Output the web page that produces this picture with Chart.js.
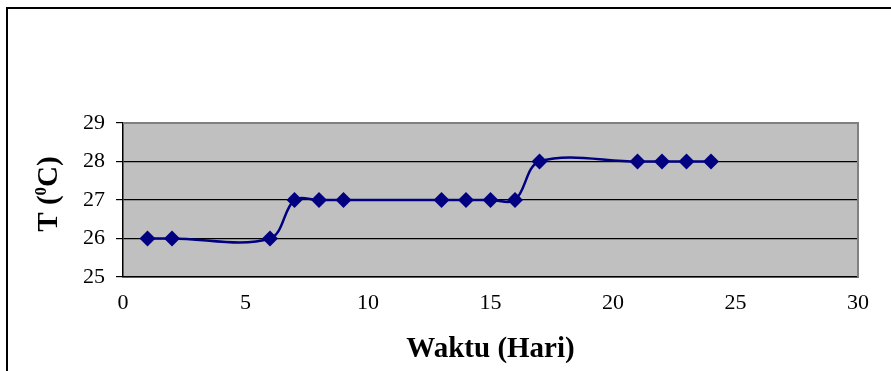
<!DOCTYPE html>
<html>
<head>
<meta charset="utf-8">
<script src="https://cdn.jsdelivr.net/npm/chart.js@4.4.0/dist/chart.umd.min.js"></script>
<style>
  html, body { margin: 0; padding: 0; background: #fff; }
  #wrap { width: 891px; height: 371px; position: relative; }
</style>
</head>
<body>
<div id="wrap"><canvas id="grafik"></canvas></div>
<script>
// Data suhu harian
const hari = [1, 2, 6, 7, 8, 9, 13, 14, 15, 16, 17, 21, 22, 23, 24];
const suhu = [26, 26, 26, 27, 27, 27, 27, 27, 27, 27, 28, 28, 28, 28, 28];
const xTicks = [0, 5, 10, 15, 20, 25, 30];
const yTicks = [25, 26, 27, 28, 29];

const puntos = hari.map((h, i) => ({ x: h, y: suhu[i] }));

// Bingkai luar + latar area plot + judul sumbu Y dengan superskrip
const dekorasi = {
    id: 'dekorasi',
    beforeDraw(chart) {
        const { ctx, chartArea: a } = chart;
        ctx.save();
        ctx.fillStyle = '#c0c0c0';
        ctx.fillRect(a.left, a.top, a.right - a.left, a.bottom - a.top);
        ctx.restore();
    },
    afterDraw(chart) {
        const { ctx, chartArea: a } = chart;
        ctx.save();
        // bingkai luar
        ctx.strokeStyle = '#000';
        ctx.lineWidth = 2;
        ctx.strokeRect(7, 8, 900, 400);
        // sisi atas & kanan area plot
        ctx.strokeStyle = '#808080';
        ctx.lineWidth = 2;
        ctx.beginPath();
        ctx.moveTo(a.left, a.top);
        ctx.lineTo(a.right, a.top);
        ctx.lineTo(a.right, a.bottom);
        ctx.stroke();
        // judul sumbu Y: T (0C)
        ctx.fillStyle = '#000';
        ctx.translate(50, 194);
        ctx.rotate(-Math.PI / 2);
        ctx.textBaseline = 'middle';
        const big = 'bold 29px "Liberation Serif", serif';
        const small = 'bold 17px "Liberation Serif", serif';
        const parts = [['T (', big, 0], ['0', small, -8], ['C)', big, 0]];
        let total = 0;
        parts.forEach(p => { ctx.font = p[1]; total += ctx.measureText(p[0]).width; });
        let x = -total / 2;
        parts.forEach(p => {
            ctx.font = p[1];
            ctx.fillText(p[0], x, p[2]);
            x += ctx.measureText(p[0]).width;
        });
        ctx.restore();
    }
};

new Chart(document.getElementById('grafik'), {
    type: 'line',
    data: {
        datasets: [{
            data: puntos,
            borderColor: '#000080',
            backgroundColor: '#000080',
            borderWidth: 2.5,
            tension: 0.35,
            pointStyle: 'rectRot',
            pointRadius: 8,
            pointHoverRadius: 8,
            pointBorderWidth: 0,
            fill: false
        }]
    },
    options: {
        responsive: true,
        maintainAspectRatio: false,
        animation: false,
        events: [],
        layout: { padding: { top: 123, right: 33, left: 0, bottom: 0 } },
        plugins: { legend: { display: false }, tooltip: { enabled: false } },
        scales: {
            x: {
                type: 'linear',
                min: xTicks[0],
                max: xTicks[xTicks.length - 1],
                afterBuildTicks: (s) => { s.ticks = xTicks.map(v => ({ value: v })); },
                afterFit: (s) => { s.height = 94; },
                grid: { display: false, drawOnChartArea: false, drawTicks: true, tickLength: 7, color: '#000' },
                border: { display: true, color: '#000', width: 1.5 },
                ticks: { color: '#000', padding: 6, maxRotation: 0, font: { family: '"Liberation Serif", serif', size: 22 } },
                title: { display: true, text: 'Waktu (Hari)', color: '#000', padding: { top: 12 }, font: { family: '"Liberation Serif", serif', size: 29, weight: 'bold' } }
            },
            y: {
                min: yTicks[0],
                max: yTicks[yTicks.length - 1],
                afterBuildTicks: (s) => { s.ticks = yTicks.map(v => ({ value: v })); },
                afterFit: (s) => { s.width = 123; },
                grid: { color: '#000', lineWidth: 1.2, tickLength: 7, drawTicks: true },
                border: { display: true, color: '#000', width: 1.5 },
                ticks: { color: '#000', padding: 11, font: { family: '"Liberation Serif", serif', size: 22 } }
            }
        }
    },
    plugins: [dekorasi]
});
</script>
</body>
</html>
